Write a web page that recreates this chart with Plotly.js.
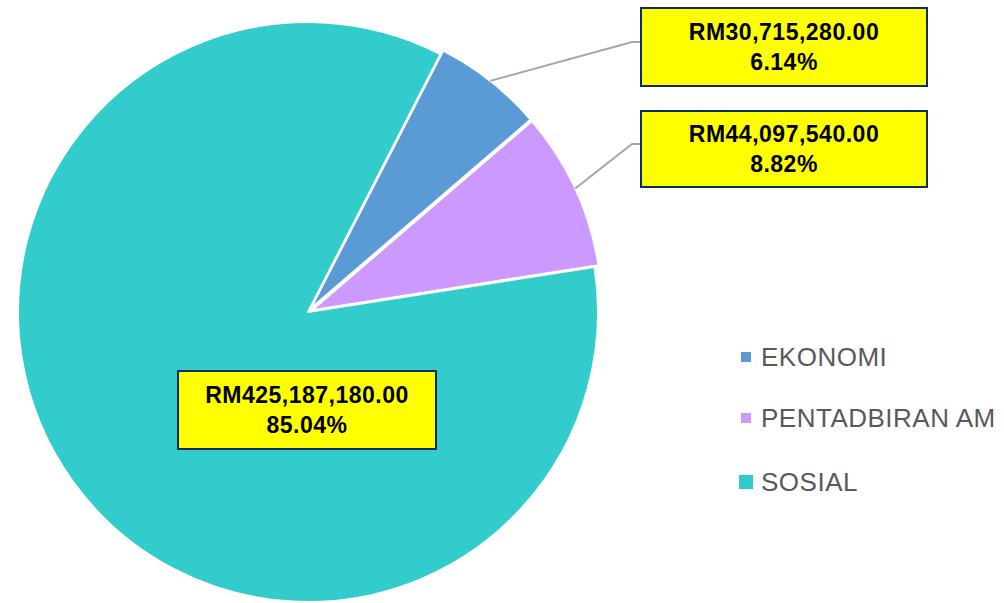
<!DOCTYPE html>
<html>
<head>
<meta charset="utf-8">
<script src="https://cdn.plot.ly/plotly-3.0.1.min.js"></script>
<style>
html,body{margin:0;padding:0;overflow:hidden;background:#fff;}
#chart{width:1004px;height:640px;}
</style>
</head>
<body>
<div id="chart"></div>
<script>
// ---- data ----
const categories = ['EKONOMI', 'PENTADBIRAN AM', 'SOSIAL'];
const amounts = [30715280, 44097540, 425187180];
const sliceColors = ['#5B9BD5', '#CC99FF', '#33CCCC'];
const legendMarkerSizes = [10, 10, 14];

// ---- layout constants ----
const W = 1004, H = 640;
const cx = 308, cy = 312, R = 290, PULL = 0.015;
const pulls = [PULL, PULL, 0];
const rotationDeg = 27.2;
const half = R * (1 + PULL);

// label boxes (pixel positions) : leader lines attach for outside labels
const boxes = [
  {left: 640, top: 7,   w: 288, h: 80, bendX: 632, attachY: 42,  leader: true},
  {left: 640, top: 110, w: 288, h: 78, bendX: 632, attachY: 144, leader: true},
  {left: 177, top: 370, w: 260, h: 80, leader: false}
];
const legendX = 746, legendTextX = 759, legendRows = [357, 418, 482];

const px = x => x / W;
const py = y => 1 - y / H;

const total = amounts.reduce((a, b) => a + b, 0);
const fmtMoney = v => 'RM' + v.toLocaleString('en-US', {minimumFractionDigits: 2, maximumFractionDigits: 2});
const fmtPct = v => (v / total * 100).toFixed(2) + '%';
const spaced = (t, ls) => '<span style="letter-spacing:' + ls + 'px">' + t + '</span>';

const trace = {
  type: 'pie',
  labels: categories,
  values: amounts,
  sort: false,
  direction: 'clockwise',
  rotation: rotationDeg,
  pull: pulls,
  marker: {colors: sliceColors, line: {color: '#FFFFFF', width: 2}},
  textinfo: 'none',
  hoverinfo: 'label+value+percent',
  domain: {x: [px(cx - half), px(cx + half)], y: [(H - cy - half) / H, (H - cy + half) / H]},
  showlegend: false
};

const annotations = [];
const shapes = [];

let cum = 0;
amounts.forEach((v, i) => {
  const mid = (rotationDeg + (cum + v / 2) / total * 360) * Math.PI / 180;
  cum += v;
  const b = boxes[i];
  annotations.push({
    xref: 'paper', yref: 'paper',
    x: px(b.left + b.w / 2), y: py(b.top + b.h / 2),
    xanchor: 'center', yanchor: 'middle',
    showarrow: false,
    text: '<b>' + spaced(fmtMoney(v), 0.5) + '</b><br><b>' + spaced(fmtPct(v), 0.5) + '</b>',
    font: {family: 'Liberation Sans, Arial, sans-serif', size: 23, color: '#000000'},
    bgcolor: '#FFFF00', bordercolor: '#0F2A5C', borderwidth: 2, borderpad: 0,
    width: b.w - 4, height: b.h - 4, align: 'center'
  });
  if (b.leader) {
    const rr = R * (1 + pulls[i]);
    const sx = cx + rr * Math.sin(mid), sy = cy - rr * Math.cos(mid);
    shapes.push({
      type: 'path', xref: 'paper', yref: 'paper',
      path: 'M ' + px(sx) + ' ' + py(sy) + ' L ' + px(b.bendX) + ' ' + py(b.attachY) + ' L ' + px(b.left) + ' ' + py(b.attachY),
      line: {color: '#A6A6A6', width: 2}
    });
  }
  // legend entry
  const s = legendMarkerSizes[i];
  shapes.push({
    type: 'rect', xref: 'paper', yref: 'paper',
    x0: px(legendX - s / 2), x1: px(legendX + s / 2),
    y0: py(legendRows[i] + s / 2), y1: py(legendRows[i] - s / 2),
    fillcolor: sliceColors[i], line: {width: 0}
  });
  annotations.push({
    xref: 'paper', yref: 'paper',
    x: px(legendTextX), y: py(legendRows[i]),
    xanchor: 'left', yanchor: 'middle', showarrow: false,
    text: spaced(categories[i], 0.5),
    font: {family: 'Liberation Sans, Arial, sans-serif', size: 26, color: '#595959'}
  });
});

const layout = {
  width: W, height: H,
  margin: {l: 0, r: 0, t: 0, b: 0},
  paper_bgcolor: '#FFFFFF',
  showlegend: false,
  annotations: annotations,
  shapes: shapes
};

Plotly.newPlot('chart', [trace], layout, {displayModeBar: false, staticPlot: true});
</script>
</body>
</html>
